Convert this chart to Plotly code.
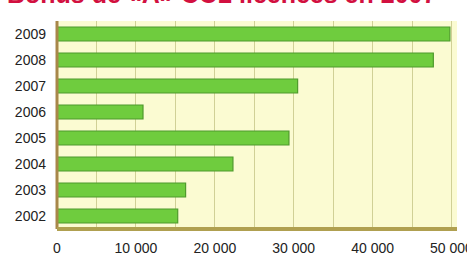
import plotly.graph_objects as go

years = ["2002", "2003", "2004", "2005", "2006", "2007", "2008", "2009"]
values = [15300, 16300, 22300, 29400, 10900, 30500, 47700, 49800]
tick_vals = [0, 10000, 20000, 30000, 40000, 50000]
tick_text = ["0", "10 000", "20 000", "30 000", "40 000", "50 000"]
title_text = "Bonus de «A» CO2 licences en 2007"

fig = go.Figure()
fig.add_trace(go.Bar(
    y=years, x=values, orientation="h",
    marker=dict(color="#6fcc3e", line=dict(color="#4f9a2c", width=1.2)),
))

fig.update_layout(
    width=467, height=262,
    margin=dict(l=57, r=10, t=21, b=33),
    paper_bgcolor="white",
    plot_bgcolor="#fbfbd2",
    bargap=0.46,
    showlegend=False,
    font=dict(family="Liberation Sans, Arial", size=14, color="#222222"),
    xaxis=dict(range=[0, 50700], tickvals=tick_vals, ticktext=tick_text,
               showgrid=True, gridcolor="#d0d096", gridwidth=1,
               minor=dict(dtick=5000, showgrid=True, gridcolor="#d0d096", gridwidth=1),
               zeroline=False, ticks="", tickfont=dict(size=14),
               ticklabelstandoff=9, ticklabeloverflow="allow", automargin=False),
    yaxis=dict(type="category", categoryorder="array", categoryarray=years,
               showgrid=False, zeroline=False, ticks="", ticklabelstandoff=10,
               tickfont=dict(size=14), automargin=False),
    shapes=[
        dict(type="line", xref="paper", yref="paper", x0=0, x1=0, y0=0, y1=1,
             line=dict(color="#a8874a", width=3)),
        dict(type="line", xref="paper", yref="paper", x0=0, x1=1, y0=0, y1=0,
             line=dict(color="#b0a050", width=4)),
    ],
    annotations=[dict(text="<b>" + title_text + "</b>", xref="paper", yref="paper",
                      x=0.41, y=1.13, xanchor="center", yanchor="middle",
                      showarrow=False,
                      font=dict(family="Liberation Sans, Arial", size=25, color="#d21040"))],
)

fig.write_html("out.html", config={"displayModeBar": False},
               post_script="document.body.style.margin='0';document.body.style.overflow='hidden';")
